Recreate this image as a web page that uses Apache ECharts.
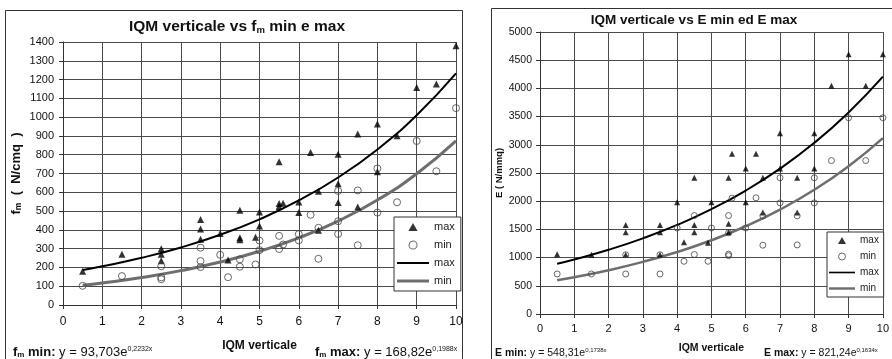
<!DOCTYPE html>
<html>
<head>
<meta charset="utf-8">
<script src="https://cdn.jsdelivr.net/npm/echarts@6/dist/echarts.min.js"></script>
<style>
html,body{margin:0;padding:0;background:#fff;}
#c{width:892px;height:359px;}
</style>
</head>
<body>
<div id="c"></div>
<script>
// ---------- data ----------
const xTicksMax = 10;
const fmMaxPoints = [[0.5,180],[1.5,270],[2.5,300],[2.5,270],[2.5,235],[3.5,455],[3.5,405],[3.5,350],[4,380],[4.2,240],[4.5,505],[4.5,358],[4.5,348],[4.9,360],[5,495],[5,420],[5.5,540],[5.5,525],[5.6,542],[6,548],[6,493],[6.5,606],[6.5,398],[7,645],[7,546],[7.5,522],[5.5,762],[6.3,812],[7,803],[7.5,910],[8,964],[8,709],[8.5,901],[9,1158],[9.5,1176],[10,1380]];
const fmMinPoints = [[0.5,102],[1.5,154],[2.5,206],[2.5,147],[2.5,137],[3.5,305],[3.5,234],[3.5,202],[4,267],[4.2,148],[4.5,243],[4.5,204],[4.9,216],[5,343],[5,292],[5.5,368],[5.5,298],[5.6,322],[6,377],[6,344],[6.3,480],[6.5,411],[6.5,246],[7,607],[7,446],[7,378],[7.5,610],[7.5,318],[8,727],[8,492],[8.5,547],[9,873],[9.5,712],[10,1048]];
const eMaxPoints = [[0.5,1060],[1.5,1050],[2.5,1580],[2.5,1450],[2.5,1050],[3.5,1580],[3.5,1450],[3.5,1050],[4,1980],[4.2,1270],[4.5,2415],[4.5,1580],[4.5,1450],[4.9,1265],[5,1980],[5.5,2415],[5.5,1600],[5.5,1450],[5.6,2840],[6,2580],[6,1980],[6.3,2840],[6.5,2415],[6.5,1800],[7,3205],[7,2580],[7.5,2415],[7.5,1800],[8,3205],[8,2580],[8.5,4045],[9,4605],[9.5,4045],[10,4605]];
const eMinPoints = [[0.5,710],[1.5,710],[2.5,710],[2.5,1050],[3.5,710],[3.5,1050],[4,1525],[4.2,935],[4.5,1745],[4.5,1055],[4.9,935],[5,1525],[5.5,1745],[5.5,1060],[5.5,1035],[5.5,1440],[5.6,2055],[6,1525],[6.3,2060],[6.5,1220],[6.5,1740],[7,2415],[7,1970],[7.5,1740],[7.5,1225],[8,2415],[8,1970],[8.5,2720],[9,3480],[9.5,2720],[10,3480]];
const trendX = [0.5,1,2,3,4,5,6,7,8,9,10];
const fmMaxTrend = [186.5,205.9,251.3,306.5,373.9,456.2,556.5,678.9,828.2,1010.3,1232.6];
const fmMinTrend = [104.8,117.1,146.4,183.0,228.8,286.0,357.6,447.0,558.8,698.5,873.2];
const eMaxTrend = [891,967,1139,1341,1579,1859,2189,2578,3035,3574,4208];
const eMinTrend = [598,652,776,924,1099,1307,1556,1851,2202,2620,3118];

// ---------- chart ----------
const FONT = '"Liberation Sans", Arial, Helvetica, sans-serif';
const chart = echarts.init(document.getElementById('c'), null, {renderer: 'canvas'});
const pair = (xs, ys) => xs.map((x, i) => [x, ys[i]]);
const GRIDC = '#4a4a4a';
const CIRC = '#444';
const plain = v => String(v);

function xAxisCfg(gi, fs, nameFs, gap, margin) {
  return {
    type: 'value', gridIndex: gi, min: 0, max: xTicksMax, interval: 1,
    axisLine: {show: true, onZero: false, lineStyle: {color: '#333', width: 1}},
    axisTick: {show: true, length: 4, lineStyle: {color: '#333'}},
    splitLine: {show: true, lineStyle: {color: GRIDC, width: 1}},
    axisLabel: {fontFamily: FONT, fontSize: fs, color: '#111', margin: margin, formatter: plain},
    name: 'IQM verticale', nameLocation: 'middle', nameGap: gap,
    nameTextStyle: {fontFamily: FONT, fontSize: nameFs, fontWeight: 'bold', color: '#111'}
  };
}
function yAxisCfg(gi, max, interval, fs, name, rich, gap, margin) {
  return {
    type: 'value', gridIndex: gi, min: 0, max: max, interval: interval,
    axisLine: {show: true, lineStyle: {color: '#333', width: 1}},
    axisTick: {show: true, length: 4, lineStyle: {color: '#333'}},
    splitLine: {show: true, lineStyle: {color: GRIDC, width: 1}},
    axisLabel: {fontFamily: FONT, fontSize: fs, color: '#111', margin: margin, formatter: plain},
    name: name, nameLocation: 'middle', nameRotate: 90, nameGap: gap,
    nameTextStyle: {fontFamily: FONT, fontWeight: 'bold', color: '#111', rich: rich}
  };
}

const richEq = (big, small, sup) => ({
  b: {fontFamily: FONT, fontSize: big, fontWeight: 'bold', fill: '#111'},
  s: {fontFamily: FONT, fontSize: small, fontWeight: 'bold', fill: '#111', verticalAlign: 'bottom'},
  r: {fontFamily: FONT, fontSize: big, fill: '#111'},
  p: {fontFamily: FONT, fontSize: sup, fill: '#111', verticalAlign: 'top'}
});

const triIcon = 'path://M4,0 L8,7 L0,7 Z';
const circIcon = 'path://M4,0.5 A3.5,3.5 0 1,1 3.99,0.5 Z';
const lineIcon2 = 'path://M0,0 L32,0 L32,2 L0,2 Z';
const lineIcon3 = 'path://M0,0 L32,0 L32,3 L0,3 Z';
function legendData() {
  return [
    {name: 'max', icon: triIcon, itemStyle: {color: '#000', borderWidth: 0}},
    {name: 'min', icon: circIcon, itemStyle: {color: '#fff', borderColor: CIRC, borderWidth: 1}},
    {name: 'max ', icon: lineIcon2, itemStyle: {color: '#000', borderWidth: 0}},
    {name: 'min ', icon: lineIcon3, itemStyle: {color: '#6e6e6e', borderWidth: 0}}
  ];
}

const option = {
  backgroundColor: '#fff',
  animation: false,
  grid: [
    {left: 63, top: 42, width: 393, height: 263},
    {left: 540, top: 32, width: 349, height: 292}
  ],
  xAxis: [xAxisCfg(0, 12, 12, 35, 11), xAxisCfg(1, 11, 10.5, 29, 9)],
  yAxis: [
    yAxisCfg(0, 1400, 100, 11, '{b|f}{s|m}{b|  (  N/cmq  )}', {
      b: {fontFamily: FONT, fontSize: 13, fontWeight: 'bold', color: '#111'},
      s: {fontFamily: FONT, fontSize: 8.5, fontWeight: 'bold', color: '#111', verticalAlign: 'bottom'}
    }, 40, 9),
    yAxisCfg(1, 5000, 500, 10.5, '{b|E ( N/mmq)}', {
      b: {fontFamily: FONT, fontSize: 9.5, fontWeight: 'bold', color: '#111'}
    }, 36, 8)
  ],
  legend: [
    {
      orient: 'vertical', left: 394, top: 217, padding: [3, 3, 3, 3],
      itemWidth: 32, itemHeight: 8, itemGap: 4, symbolKeepAspect: true,
      backgroundColor: '#fff', borderColor: '#333', borderWidth: 1, borderRadius: 0,
      textStyle: {fontFamily: FONT, fontSize: 11, color: '#222', lineHeight: 14},
      data: legendData(),
      selectedMode: false
    },
    {
      orient: 'vertical', left: 827, top: 232, padding: [2, 2, 2, 2],
      itemWidth: 26, itemHeight: 7, itemGap: 3, symbolKeepAspect: true,
      backgroundColor: '#fff', borderColor: '#333', borderWidth: 1, borderRadius: 0,
      textStyle: {fontFamily: FONT, fontSize: 10, color: '#222', lineHeight: 13},
      data: legendData(),
      selectedMode: false
    }
  ],
  series: [
    {name: 'min ', type: 'line', xAxisIndex: 0, yAxisIndex: 0, data: pair(trendX, fmMinTrend), smooth: true,
     showSymbol: false, symbol: 'none', lineStyle: {color: '#6e6e6e', width: 3}, itemStyle: {color: '#6e6e6e'}, z: 3},
    {name: 'max ', type: 'line', xAxisIndex: 0, yAxisIndex: 0, data: pair(trendX, fmMaxTrend), smooth: true,
     showSymbol: false, symbol: 'none', lineStyle: {color: '#000', width: 2}, itemStyle: {color: '#000'}, z: 3},
    {name: 'max', type: 'scatter', xAxisIndex: 0, yAxisIndex: 0, data: fmMaxPoints, symbol: 'triangle', symbolSize: 7,
     itemStyle: {color: '#000'}, z: 4},
    {name: 'min', type: 'scatter', xAxisIndex: 0, yAxisIndex: 0, data: fmMinPoints, symbol: 'circle', symbolSize: 7,
     itemStyle: {color: 'rgba(255,255,255,0)', borderColor: CIRC, borderWidth: 1}, z: 4},

    {name: 'min ', type: 'line', xAxisIndex: 1, yAxisIndex: 1, data: pair(trendX, eMinTrend), smooth: true,
     showSymbol: false, symbol: 'none', lineStyle: {color: '#6e6e6e', width: 2.5}, itemStyle: {color: '#6e6e6e'}, z: 3},
    {name: 'max ', type: 'line', xAxisIndex: 1, yAxisIndex: 1, data: pair(trendX, eMaxTrend), smooth: true,
     showSymbol: false, symbol: 'none', lineStyle: {color: '#000', width: 2}, itemStyle: {color: '#000'}, z: 3},
    {name: 'max', type: 'scatter', xAxisIndex: 1, yAxisIndex: 1, data: eMaxPoints, symbol: 'triangle', symbolSize: 6,
     itemStyle: {color: '#000'}, z: 4},
    {name: 'min', type: 'scatter', xAxisIndex: 1, yAxisIndex: 1, data: eMinPoints, symbol: 'circle', symbolSize: 6,
     itemStyle: {color: 'rgba(255,255,255,0)', borderColor: CIRC, borderWidth: 1}, z: 4}
  ],
  graphic: [
    {type: 'rect', silent: true, z: 0, shape: {x: 5.5, y: 10.5, width: 457, height: 380},
     style: {fill: 'none', stroke: '#333', lineWidth: 1}},
    {type: 'rect', silent: true, z: 0, shape: {x: 491.5, y: 8.5, width: 420, height: 380},
     style: {fill: 'none', stroke: '#333', lineWidth: 1}},
    {type: 'text', x: 237, y: 27, silent: true,
     style: {text: '{b|IQM verticale vs f}{s|m}{b| min e max}', align: 'center', verticalAlign: 'middle',
       rich: richEq(15.5, 9.5, 8)}},
    {type: 'text', x: 694, y: 20, silent: true,
     style: {text: '{b|IQM verticale vs E min ed E max}', align: 'center', verticalAlign: 'middle',
       rich: richEq(13.5, 9, 8)}},
    {type: 'text', x: 13, y: 352, silent: true,
     style: {text: '{b|f}{s|m}{b| min:}{r| y = 93,703e}{p|0,2232x}', align: 'left', verticalAlign: 'middle',
       rich: richEq(13, 8, 7)}},
    {type: 'text', x: 315, y: 352, silent: true,
     style: {text: '{b|f}{s|m}{b| max:}{r| y = 168,82e}{p|0,1988x}', align: 'left', verticalAlign: 'middle',
       rich: richEq(13, 8, 7)}},
    {type: 'text', x: 495, y: 353, silent: true,
     style: {text: '{b|E min:}{r| y = 548,31e}{p|0,1738x}', align: 'left', verticalAlign: 'middle',
       rich: richEq(10.5, 7, 6)}},
    {type: 'text', x: 764, y: 353, silent: true,
     style: {text: '{b|E max:}{r| y = 821,24e}{p|0,1634x}', align: 'left', verticalAlign: 'middle',
       rich: richEq(10.5, 7, 6)}}
  ]
};
chart.setOption(option);
</script>
</body>
</html>
